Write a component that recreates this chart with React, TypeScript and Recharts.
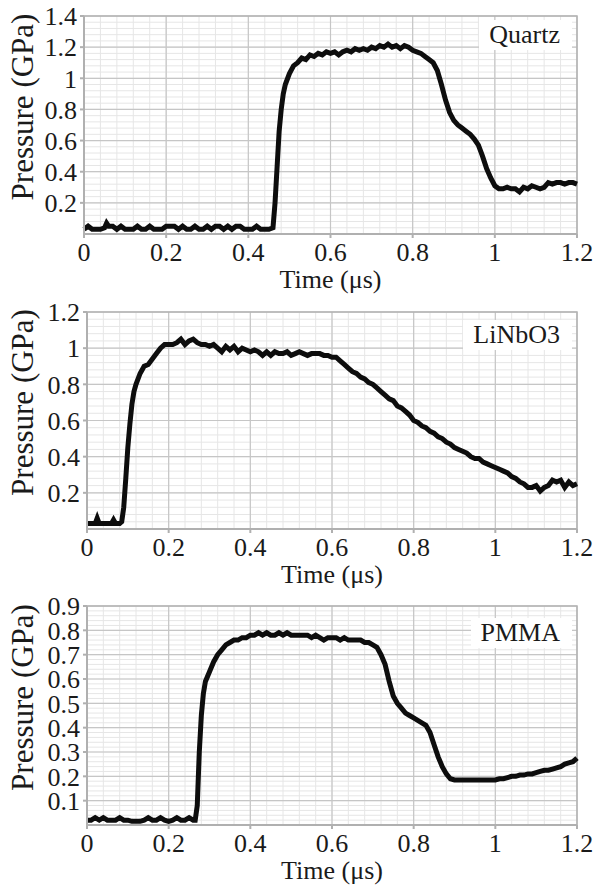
import React from 'react'
import { CartesianGrid, Line, LineChart, ReferenceArea, XAxis, YAxis } from 'recharts'

const FONT = '"Liberation Serif", "Times New Roman", serif'
const INK = '#1a1a1a'

const timeTicks = [0, 0.2, 0.4, 0.6, 0.8, 1, 1.2]

// Quartz
const quartzT = [
  0, 0.01, 0.02, 0.03, 0.04, 0.05, 0.055, 0.06, 0.07, 0.08, 0.09, 0.1, 0.11, 0.12, 0.13, 0.14, 0.15, 0.16,
  0.17, 0.18, 0.19, 0.2, 0.21, 0.22, 0.23, 0.24, 0.25, 0.26, 0.27, 0.28, 0.29, 0.3, 0.31, 0.32, 0.33, 0.34,
  0.35, 0.36, 0.37, 0.38, 0.39, 0.4, 0.41, 0.42, 0.43, 0.44, 0.45, 0.46, 0.465, 0.47, 0.475, 0.48, 0.485,
  0.49, 0.5, 0.51, 0.52, 0.53, 0.54, 0.55, 0.56, 0.57, 0.58, 0.59, 0.6, 0.61, 0.62, 0.63, 0.64, 0.65, 0.66,
  0.67, 0.68, 0.69, 0.7, 0.71, 0.72, 0.73, 0.74, 0.75, 0.76, 0.77, 0.78, 0.79, 0.8, 0.81, 0.82, 0.83, 0.84,
  0.85, 0.86, 0.87, 0.88, 0.89, 0.9, 0.91, 0.92, 0.93, 0.94, 0.95, 0.96, 0.97, 0.98, 0.99, 1, 1.01, 1.02,
  1.03, 1.04, 1.05, 1.06, 1.07, 1.08, 1.09, 1.1, 1.11, 1.12, 1.13, 1.14, 1.15, 1.16, 1.17, 1.18, 1.19, 1.2,
]
const quartzP = [
  0.03, 0.05, 0.03, 0.03, 0.03, 0.04, 0.07, 0.05, 0.05, 0.03, 0.05, 0.03, 0.03, 0.03, 0.05, 0.03, 0.03, 0.05,
  0.03, 0.03, 0.03, 0.05, 0.05, 0.05, 0.03, 0.05, 0.03, 0.03, 0.05, 0.03, 0.03, 0.05, 0.03, 0.05, 0.05, 0.03,
  0.05, 0.03, 0.05, 0.05, 0.03, 0.03, 0.03, 0.05, 0.03, 0.03, 0.03, 0.04, 0.2, 0.43, 0.66, 0.8, 0.9,
  0.96, 1.03, 1.08, 1.1, 1.13, 1.12, 1.15, 1.14, 1.16, 1.15, 1.17, 1.16, 1.17, 1.15, 1.17, 1.18, 1.17, 1.19,
  1.18, 1.19, 1.18, 1.2, 1.19, 1.21, 1.2, 1.22, 1.2, 1.21, 1.19, 1.21, 1.2, 1.18, 1.17, 1.16, 1.14, 1.12,
  1.1, 1.05, 0.96, 0.86, 0.78, 0.73, 0.7, 0.68, 0.66, 0.64, 0.61, 0.57, 0.5, 0.42, 0.36, 0.31, 0.29, 0.29,
  0.3, 0.29, 0.29, 0.27, 0.3, 0.29, 0.31, 0.3, 0.29, 0.3, 0.33, 0.32, 0.33, 0.33, 0.32, 0.33, 0.33, 0.32,
]

// LiNbO3
const linbT = [
  0, 0.01, 0.02, 0.025, 0.03, 0.04, 0.05, 0.06, 0.065, 0.07, 0.08, 0.085, 0.09, 0.095, 0.1, 0.105, 0.11,
  0.115, 0.12, 0.13, 0.14, 0.15, 0.16, 0.17, 0.18, 0.19, 0.2, 0.21, 0.22, 0.23, 0.24, 0.25, 0.26, 0.27, 0.28,
  0.29, 0.3, 0.31, 0.32, 0.33, 0.34, 0.35, 0.36, 0.37, 0.38, 0.39, 0.4, 0.41, 0.42, 0.43, 0.44, 0.45, 0.46,
  0.47, 0.48, 0.49, 0.5, 0.51, 0.52, 0.53, 0.54, 0.55, 0.56, 0.57, 0.58, 0.59, 0.6, 0.61, 0.62, 0.63, 0.64,
  0.65, 0.66, 0.67, 0.68, 0.69, 0.7, 0.71, 0.72, 0.73, 0.74, 0.75, 0.76, 0.77, 0.78, 0.79, 0.8, 0.81, 0.82,
  0.83, 0.84, 0.85, 0.86, 0.87, 0.88, 0.89, 0.9, 0.91, 0.92, 0.93, 0.94, 0.95, 0.96, 0.97, 0.98, 0.99, 1,
  1.01, 1.02, 1.03, 1.04, 1.05, 1.06, 1.07, 1.08, 1.09, 1.1, 1.11, 1.12, 1.13, 1.14, 1.15, 1.16, 1.17, 1.18,
  1.19, 1.2,
]
const linbP = [
  0.03, 0.03, 0.03, 0.06, 0.03, 0.03, 0.03, 0.03, 0.05, 0.03, 0.03, 0.04, 0.12, 0.28, 0.45, 0.58, 0.69,
  0.76, 0.8, 0.86, 0.9, 0.91, 0.94, 0.97, 1.0, 1.02, 1.02, 1.02, 1.03, 1.05, 1.02, 1.04, 1.05, 1.03, 1.02,
  1.02, 1.01, 1.02, 1.0, 0.98, 1.01, 0.99, 1.01, 0.98, 1.0, 0.99, 0.98, 0.99, 0.98, 0.96, 0.98, 0.96, 0.98,
  0.97, 0.97, 0.98, 0.96, 0.97, 0.98, 0.97, 0.96, 0.97, 0.97, 0.97, 0.96, 0.96, 0.95, 0.95, 0.93, 0.91, 0.89,
  0.87, 0.86, 0.84, 0.83, 0.81, 0.8, 0.78, 0.76, 0.74, 0.72, 0.71, 0.68, 0.67, 0.65, 0.63, 0.6, 0.59, 0.57,
  0.56, 0.54, 0.53, 0.51, 0.5, 0.48, 0.47, 0.45, 0.44, 0.43, 0.42, 0.4, 0.39, 0.39, 0.37, 0.36, 0.35, 0.34,
  0.33, 0.32, 0.31, 0.29, 0.28, 0.26, 0.25, 0.23, 0.23, 0.24, 0.21, 0.23, 0.24, 0.27, 0.26, 0.27, 0.23, 0.26,
  0.24, 0.25,
]

// PMMA
const pmmaT = [
  0, 0.01, 0.02, 0.03, 0.04, 0.05, 0.06, 0.07, 0.08, 0.09, 0.1, 0.11, 0.12, 0.13, 0.14, 0.15, 0.16, 0.17,
  0.18, 0.19, 0.2, 0.21, 0.22, 0.23, 0.24, 0.25, 0.26, 0.265, 0.27, 0.275, 0.28, 0.285, 0.29, 0.3, 0.31,
  0.32, 0.33, 0.34, 0.35, 0.36, 0.37, 0.38, 0.39, 0.4, 0.41, 0.42, 0.43, 0.44, 0.45, 0.46, 0.47, 0.48, 0.49,
  0.5, 0.51, 0.52, 0.53, 0.54, 0.55, 0.56, 0.57, 0.58, 0.59, 0.6, 0.61, 0.62, 0.63, 0.64, 0.65, 0.66, 0.67,
  0.68, 0.69, 0.7, 0.71, 0.72, 0.73, 0.74, 0.75, 0.76, 0.77, 0.78, 0.79, 0.8, 0.81, 0.82, 0.83, 0.84, 0.85,
  0.86, 0.87, 0.88, 0.89, 0.9, 0.92, 0.94, 0.96, 0.98, 1, 1.01, 1.02, 1.03, 1.04, 1.05, 1.06, 1.07, 1.08,
  1.09, 1.1, 1.11, 1.12, 1.13, 1.14, 1.15, 1.16, 1.17, 1.18, 1.19, 1.2,
]
const pmmaP = [
  0.02, 0.02, 0.03, 0.02, 0.03, 0.02, 0.02, 0.02, 0.03, 0.02, 0.02, 0.015, 0.015, 0.015, 0.02, 0.03, 0.02, 0.02,
  0.03, 0.02, 0.015, 0.02, 0.03, 0.02, 0.02, 0.03, 0.02, 0.02, 0.08, 0.3, 0.45, 0.54, 0.59, 0.63, 0.67,
  0.7, 0.72, 0.74, 0.75, 0.76, 0.76, 0.77, 0.77, 0.78, 0.78, 0.79, 0.78, 0.79, 0.78, 0.78, 0.79, 0.78, 0.79,
  0.78, 0.78, 0.78, 0.78, 0.78, 0.77, 0.78, 0.77, 0.76, 0.77, 0.77, 0.77, 0.76, 0.77, 0.76, 0.76, 0.76, 0.76,
  0.75, 0.75, 0.74, 0.73, 0.7, 0.66, 0.59, 0.53, 0.5, 0.48, 0.46, 0.45, 0.44, 0.43, 0.42, 0.41, 0.38, 0.33,
  0.28, 0.24, 0.21, 0.19, 0.185, 0.185, 0.185, 0.185, 0.185, 0.185, 0.19, 0.19, 0.195, 0.2, 0.2, 0.205, 0.205, 0.21,
  0.21, 0.215, 0.22, 0.225, 0.225, 0.23, 0.235, 0.24, 0.25, 0.255, 0.26, 0.275,
]

const toRows = (ts: number[], ps: number[]) => ts.map((t, i) => ({ t, p: ps[i] }))

function steps(max: number, step: number) {
  const out: number[] = []
  for (let i = 1; i * step < max - 1e-9; i++) out.push(+(i * step).toFixed(3))
  return out
}

const YTitle = (props: any) => {
  const vb = props.viewBox
  const cx = 22
  const cy = vb.y + vb.height / 2 - 18
  return (
    <text
      x={cx}
      y={cy}
      transform={`rotate(-90 ${cx} ${cy})`}
      textAnchor="middle"
      dominantBaseline="central"
      fontFamily={FONT}
      fontSize={31}
      fill={INK}
    >
      Pressure (GPa)
    </text>
  )
}

const XTitle = (props: any) => {
  const vb = props.viewBox
  return (
    <text x={vb.x + vb.width / 2} y={vb.y + 54} textAnchor="middle" fontFamily={FONT} fontSize={26} fill={INK}>
      Time (μs)
    </text>
  )
}

interface PanelProps {
  name: string
  rows: { t: number; p: number }[]
  yMax: number
  yTicks: number[]
  yMinor: number
  height: number
  top: number
  axisW: number
  xAxisH: number
  boxTop: number
}

function Panel({ name, rows, yMax, yTicks, yMinor, height, top, axisW, xAxisH, boxTop }: PanelProps) {
  return (
    <div style={{ position: 'relative', width: 596, height }}>
      <LineChart width={596} height={height} data={rows} margin={{ top, right: 19, left: 0, bottom: 0 }}>
        <CartesianGrid
          stroke="#e6e6e6"
          strokeWidth={1}
          verticalValues={steps(1.2, 0.04)}
          horizontalValues={steps(yMax, yMinor)}
        />
        <CartesianGrid stroke="#c6c6c6" strokeWidth={1.2} />
        <ReferenceArea x1={0} x2={1.2} y1={0} y2={yMax} fill="none" stroke="#b3b3b3" strokeWidth={1.5} />
        <XAxis
          type="number"
          dataKey="t"
          domain={[0, 1.2]}
          ticks={timeTicks}
          interval={0}
          height={xAxisH}
          tickSize={4}
          tickMargin={5}
          stroke="#b0b0b0"
          strokeWidth={2}
          tick={{ fontSize: 26, fontFamily: FONT, fill: INK }}
          label={XTitle}
        />
        <YAxis
          type="number"
          domain={[0, yMax]}
          ticks={yTicks}
          interval={0}
          width={axisW}
          tickSize={4}
          tickMargin={3}
          stroke="#b0b0b0"
          strokeWidth={2}
          tick={{ fontSize: 26, fontFamily: FONT, fill: INK }}
          label={YTitle}
        />
        <Line
          type="linear"
          dataKey="p"
          stroke="#0d0d0d"
          strokeWidth={5}
          dot={false}
          isAnimationActive={false}
        />
      </LineChart>
      <div
        style={{
          position: 'absolute',
          top: boxTop,
          right: 24,
          background: '#fff',
          padding: '0 12px 0 10px',
          fontFamily: FONT,
          fontSize: 26,
          lineHeight: '30px',
          color: INK,
        }}
      >
        {name}
      </div>
    </div>
  )
}

export default function App() {
  return (
    <div style={{ position: 'absolute', left: 0, top: 0, width: 596, height: 888, background: '#fff' }}>
      <Panel
        name="Quartz"
        rows={toRows(quartzT, quartzP)}
        yMax={1.4}
        yTicks={[0.2, 0.4, 0.6, 0.8, 1, 1.2, 1.4]}
        yMinor={0.04}
        height={295}
        top={16}
        axisW={84}
        xAxisH={61}
        boxTop={20}
      />
      <Panel
        name="LiNbO3"
        rows={toRows(linbT, linbP)}
        yMax={1.2}
        yTicks={[0.2, 0.4, 0.6, 0.8, 1, 1.2]}
        yMinor={0.04}
        height={295}
        top={17}
        axisW={87}
        xAxisH={61}
        boxTop={25}
      />
      <Panel
        name="PMMA"
        rows={toRows(pmmaT, pmmaP)}
        yMax={0.9}
        yTicks={[0.1, 0.2, 0.3, 0.4, 0.5, 0.6, 0.7, 0.8, 0.9]}
        yMinor={0.02}
        height={298}
        top={16}
        axisW={87}
        xAxisH={63}
        boxTop={28}
      />
    </div>
  )
}
